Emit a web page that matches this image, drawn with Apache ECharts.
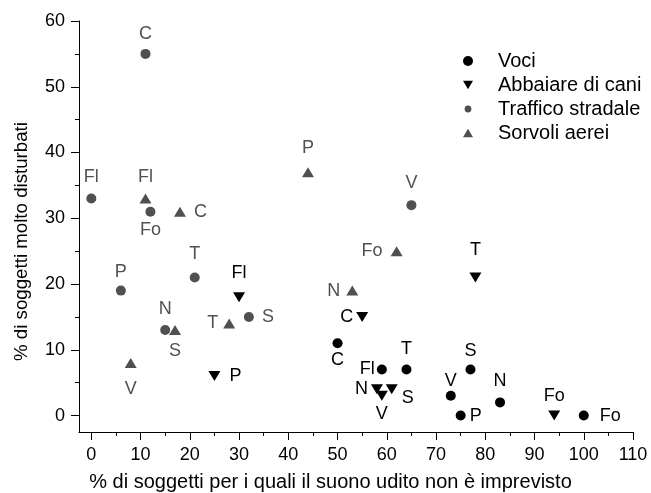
<!DOCTYPE html>
<html>
<head>
<meta charset="utf-8">
<script src="https://cdn.jsdelivr.net/npm/echarts@6/dist/echarts.min.js"></script>
<style>
html,body{margin:0;padding:0;background:#fff;}
#chart{width:651px;height:493px;}
</style>
</head>
<body>
<div id="chart"></div>
<script>
// ---- data ----
const seriesNames = ['Voci', 'Abbaiare di cani', 'Traffico stradale', 'Sorvoli aerei'];

const vociX = [50, 59, 64, 77, 73, 75, 83, 100];
const vociY = [11, 7, 7, 7, 3, 0, 2, 0];
const vociLabels = ['C', 'Fl', 'T', 'S', 'V', 'P', 'N', 'Fo'];

const caniX = [30, 25, 55, 78, 58, 61, 59, 94];
const caniY = [18, 6, 15, 21, 4, 4, 3, 0];
const caniLabels = ['Fl', 'P', 'C', 'T', 'N', 'S', 'V', 'Fo'];

const trafficoX = [11, 0, 12, 21, 6, 15, 32, 65];
const trafficoY = [55, 33, 31, 21, 19, 13, 15, 32];
const trafficoLabels = ['C', 'Fl', 'Fo', 'T', 'P', 'N', 'S', 'V'];

const sorvoliX = [11, 18, 44, 62, 53, 28, 17, 8];
const sorvoliY = [33, 31, 37, 25, 19, 14, 13, 8];
const sorvoliLabels = ['Fl', 'C', 'P', 'Fo', 'N', 'T', 'S', 'V'];

const xTickLabels = [0, 10, 20, 30, 40, 50, 60, 70, 80, 90, 100, 110];
const xMinorTicks = [5, 15, 25, 35, 45, 55, 65, 75, 85, 95, 105];
const yTickLabels = [0, 10, 20, 30, 40, 50, 60];
const yMinorTicks = [5, 15, 25, 35, 45, 55];

const xTitle = '% di soggetti per i quali il suono udito non è imprevisto';
const yTitle = '% di soggetti molto disturbati';

// ---- label layout (position, distance, offset) ----
const vociLabelLayout = [['bottom',3],['left',2],['top',6],['top',4],['top',1],['right',4],['top',7],['right',11]];
const caniLabelLayout = [['top',10],['right',9],['left',3],['top',13],['left',3],['right',4,[0,9]],['bottom',4],['top',6]];
const trafficoLabelLayout = [['top',6],['top',8],['bottom',4],['top',9],['top',5],['top',7],['right',8],['top',8]];
const sorvoliLabelLayout = [['top',8],['right',8],['top',10],['left',8],['left',6],['left',5],['bottom',7],['bottom',12]];

// ---- styling ----
const FONT = 'Arial, "Liberation Sans", Helvetica, sans-serif';
const BLACK = '#000000';
const GRAY = '#505050';

function buildData(xs, ys, names, layout, color) {
  return xs.map(function (x, i) {
    const l = layout[i];
    return {
      value: [x, ys[i]],
      name: names[i],
      label: {
        show: true,
        position: l[0],
        distance: l[1],
        offset: l[2] || [0, 0],
        formatter: '{b}',
        color: color,
        fontSize: 18,
        fontFamily: FONT
      }
    };
  });
}

const chart = echarts.init(document.getElementById('chart'), null, {renderer: 'canvas'});

function tickAxis(min, max, pos, values, len) {
  return {
    type: 'value', min: min, max: max, position: pos,
    splitLine: {show: false},
    axisLine: {show: false, onZero: false},
    axisTick: {show: true, inside: false, length: len, customValues: values, lineStyle: {color: BLACK, width: 1}},
    axisLabel: {show: false}
  };
}

const option = {
  backgroundColor: '#ffffff',
  animation: false,
  grid: {left: 79, right: 18, top: 21, bottom: 61, containLabel: false, outerBoundsMode: 'none'},
  legend: {
    orient: 'vertical',
    left: 458,
    top: 46,
    padding: 5,
    itemWidth: 10,
    itemHeight: 10,
    itemGap: 4,
    symbolKeepAspect: true,
    textStyle: {color: BLACK, fontSize: 20, fontFamily: FONT, lineHeight: 20, padding: [0, 0, 0, 20]},
    data: [
      {name: seriesNames[0], icon: 'circle'},
      {name: seriesNames[1], icon: 'path://M0,0L12,0L6,10Z'},
      {name: seriesNames[2], icon: 'path://M0,0M10,10M1.6,5A3.4,3.4,0,1,1,8.4,5A3.4,3.4,0,1,1,1.6,5Z'},
      {name: seriesNames[3], icon: 'path://M6,0L12,10L0,10Z'}
    ]
  },
  xAxis: [
    {
      type: 'value', min: -2.5, max: 110, position: 'bottom',
      splitLine: {show: false},
      axisLine: {show: true, onZero: false, lineStyle: {color: BLACK, width: 1}},
      name: xTitle,
      nameLocation: 'middle',
      nameGap: 40,
      nameTextStyle: {color: BLACK, fontSize: 20, fontFamily: FONT, padding: [0, 51, 0, 0]},
      axisTick: {show: false},
      axisLabel: {show: true, customValues: xTickLabels, margin: 14, color: BLACK, fontSize: 18, fontFamily: FONT}
    },
    tickAxis(-2.5, 110, 'bottom', xTickLabels, 8),
    tickAxis(-2.5, 110, 'bottom', xMinorTicks, 4)
  ],
  yAxis: [
    {
      type: 'value', min: -2.5, max: 60, position: 'left',
      splitLine: {show: false},
      axisLine: {show: true, onZero: false, lineStyle: {color: BLACK, width: 1}},
      name: yTitle,
      nameLocation: 'middle',
      nameRotate: 90,
      nameGap: 48,
      nameTextStyle: {color: BLACK, fontSize: 18.7, fontFamily: FONT, padding: [0, 30, 0, 0]},
      axisTick: {show: false},
      axisLabel: {show: true, customValues: yTickLabels, margin: 14, color: BLACK, fontSize: 18, fontFamily: FONT}
    },
    tickAxis(-2.5, 60, 'left', yTickLabels, 8),
    tickAxis(-2.5, 60, 'left', yMinorTicks, 4)
  ],
  series: [
    {
      name: seriesNames[0], type: 'scatter', xAxisIndex: 0, yAxisIndex: 0,
      symbol: 'circle', symbolSize: 10,
      itemStyle: {color: BLACK, opacity: 1},
      data: buildData(vociX, vociY, vociLabels, vociLabelLayout, BLACK)
    },
    {
      name: seriesNames[1], type: 'scatter', xAxisIndex: 0, yAxisIndex: 0,
      symbol: 'triangle', symbolSize: [12, 10], symbolRotate: 180,
      itemStyle: {color: BLACK, opacity: 1},
      data: buildData(caniX, caniY, caniLabels, caniLabelLayout, BLACK)
    },
    {
      name: seriesNames[2], type: 'scatter', xAxisIndex: 0, yAxisIndex: 0,
      symbol: 'circle', symbolSize: 10,
      itemStyle: {color: GRAY, opacity: 1},
      data: buildData(trafficoX, trafficoY, trafficoLabels, trafficoLabelLayout, GRAY)
    },
    {
      name: seriesNames[3], type: 'scatter', xAxisIndex: 0, yAxisIndex: 0,
      symbol: 'triangle', symbolSize: [12, 10],
      itemStyle: {color: GRAY, opacity: 1},
      data: buildData(sorvoliX, sorvoliY, sorvoliLabels, sorvoliLabelLayout, GRAY)
    }
  ]
};

chart.setOption(option);
</script>
</body>
</html>
